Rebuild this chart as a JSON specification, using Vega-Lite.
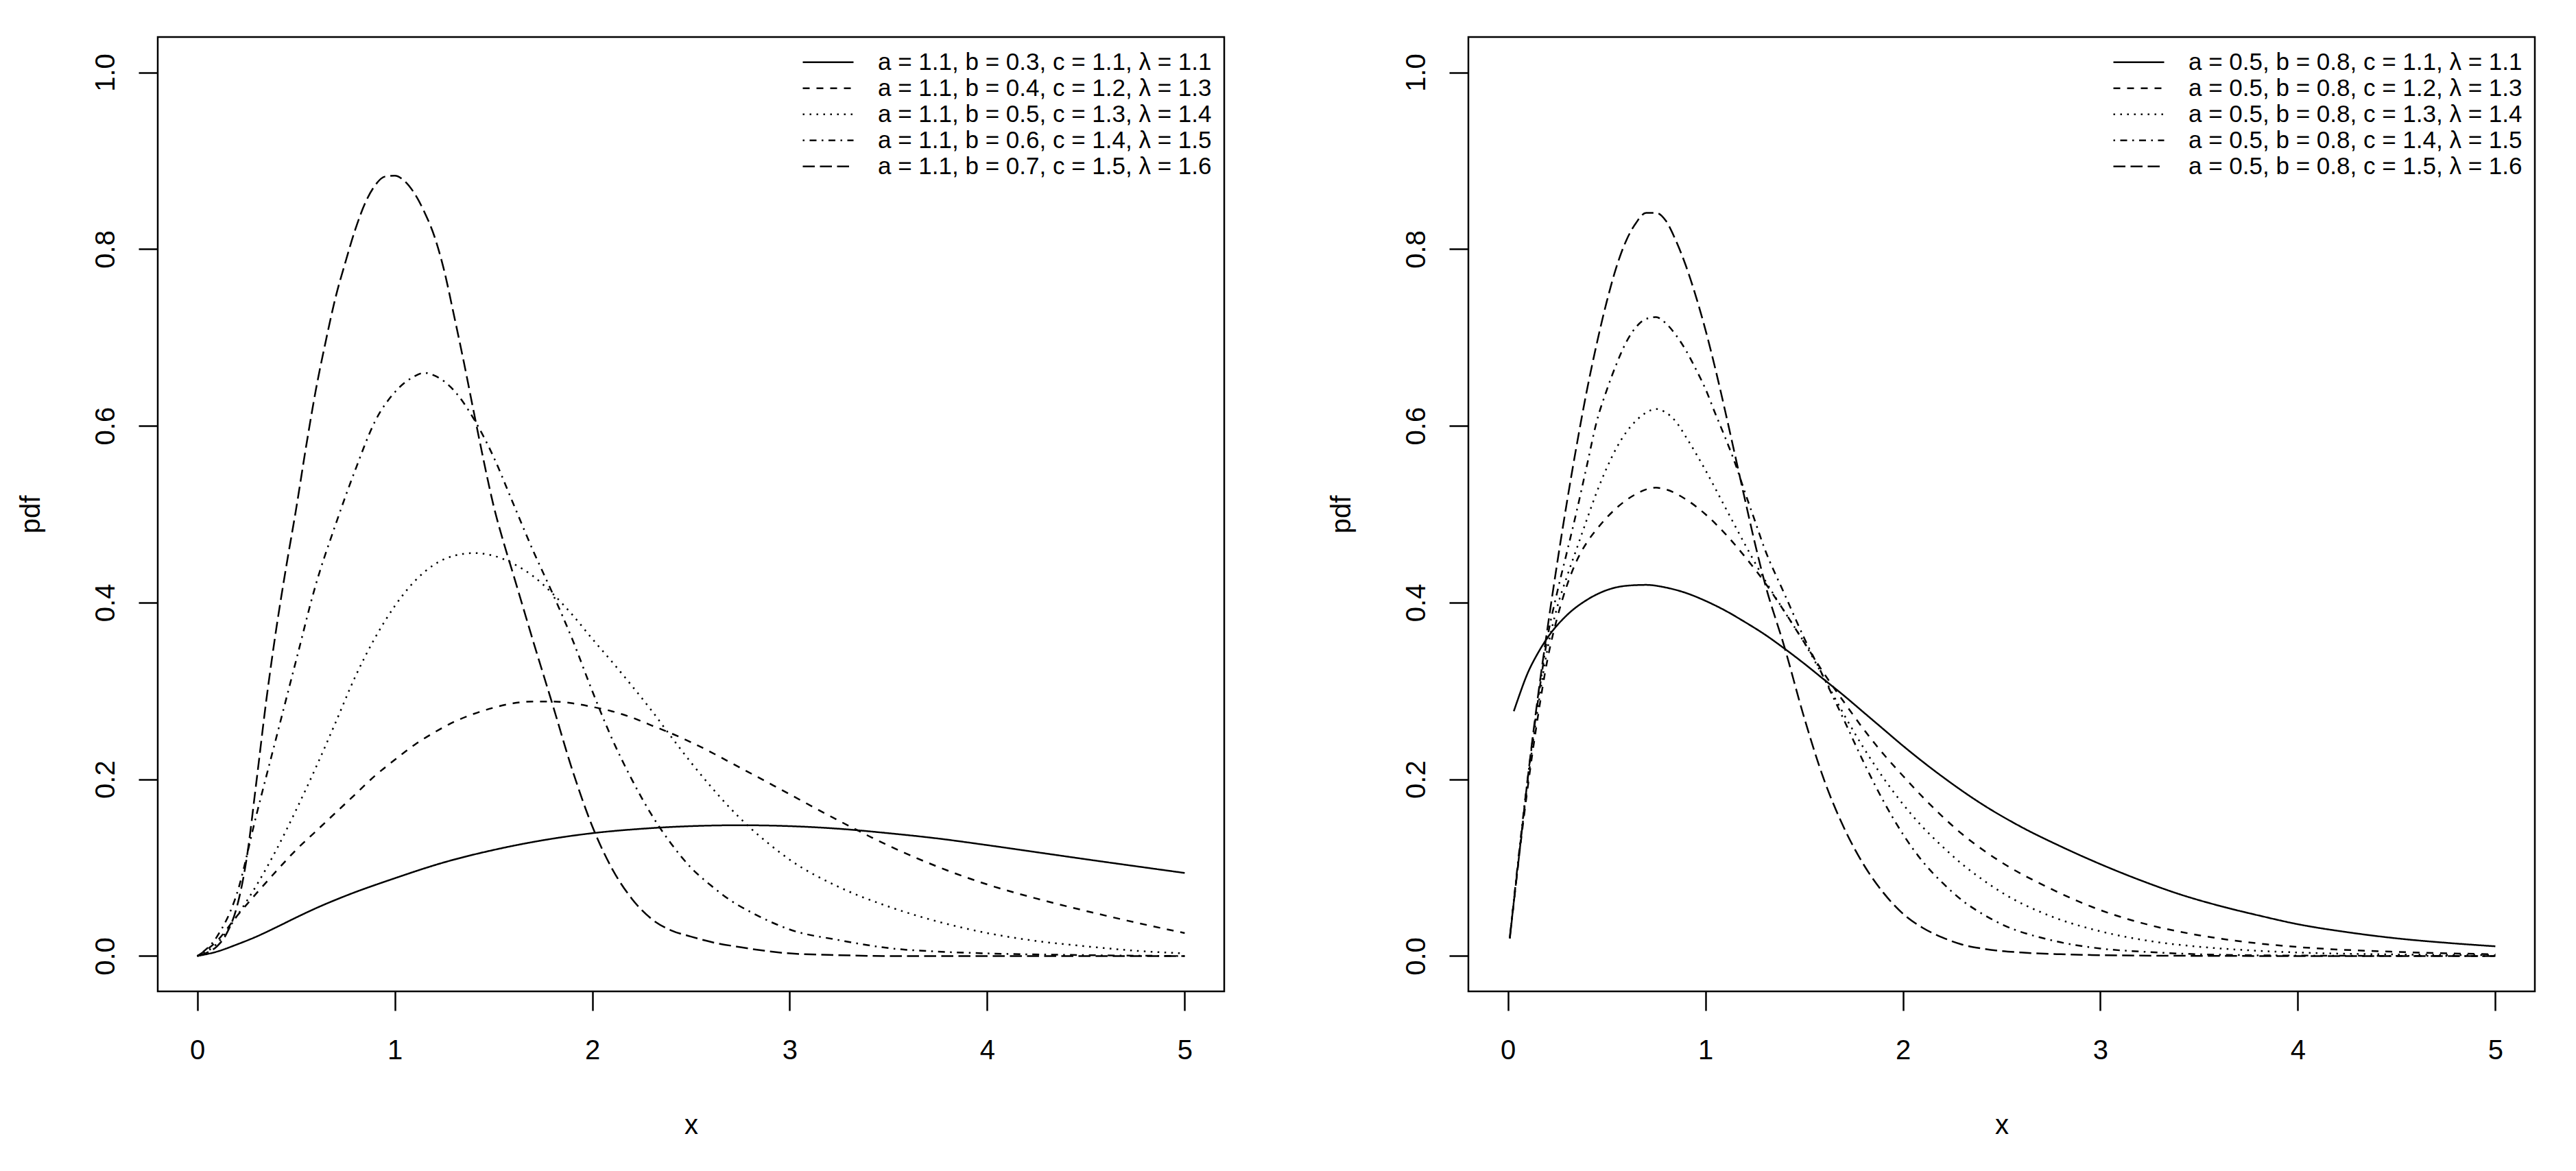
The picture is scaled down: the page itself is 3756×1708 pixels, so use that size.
{
  "$schema": "https://vega.github.io/schema/vega-lite/v6.json",
  "background": "white",
  "padding": {"left": 23, "top": 52, "right": 10, "bottom": 10},
  "spacing": 356,
  "bounds": "flush",
  "datasets": {
    "labelsLeft": [
      {"k": 1, "s": "a = 1.1, b = 0.3, c = 1.1, λ = 1.1"},
      {"k": 2, "s": "a = 1.1, b = 0.4, c = 1.2, λ = 1.3"},
      {"k": 3, "s": "a = 1.1, b = 0.5, c = 1.3, λ = 1.4"},
      {"k": 4, "s": "a = 1.1, b = 0.6, c = 1.4, λ = 1.5"},
      {"k": 5, "s": "a = 1.1, b = 0.7, c = 1.5, λ = 1.6"}
    ],
    "labelsRight": [
      {"k": 1, "s": "a = 0.5, b = 0.8, c = 1.1, λ = 1.1"},
      {"k": 2, "s": "a = 0.5, b = 0.8, c = 1.2, λ = 1.3"},
      {"k": 3, "s": "a = 0.5, b = 0.8, c = 1.3, λ = 1.4"},
      {"k": 4, "s": "a = 0.5, b = 0.8, c = 1.4, λ = 1.5"},
      {"k": 5, "s": "a = 0.5, b = 0.8, c = 1.5, λ = 1.6"}
    ],
    "left": [
      {"k":1,"x":0,"y":0},{"k":1,"x":0.1,"y":0.005},{"k":1,"x":0.2,"y":0.013},{"k":1,"x":0.3,"y":0.022},{"k":1,"x":0.4,"y":0.0325},{"k":1,"x":0.5,"y":0.0435},{"k":1,"x":0.6,"y":0.054},{"k":1,"x":0.75,"y":0.068},{"k":1,"x":1.0,"y":0.088},{"k":1,"x":1.25,"y":0.106},{"k":1,"x":1.5,"y":0.12},{"k":1,"x":1.75,"y":0.131},{"k":1,"x":2.0,"y":0.139},{"k":1,"x":2.25,"y":0.144},{"k":1,"x":2.5,"y":0.147},{"k":1,"x":2.75,"y":0.148},{"k":1,"x":3.0,"y":0.147},{"k":1,"x":3.25,"y":0.144},{"k":1,"x":3.5,"y":0.139},{"k":1,"x":3.75,"y":0.133},{"k":1,"x":4.0,"y":0.1255},{"k":1,"x":4.25,"y":0.1175},{"k":1,"x":4.5,"y":0.1095},{"k":1,"x":4.75,"y":0.1017},{"k":1,"x":5.0,"y":0.094},

      {"k":2,"x":0,"y":0},{"k":2,"x":0.1,"y":0.017},{"k":2,"x":0.2,"y":0.045},{"k":2,"x":0.3,"y":0.071},{"k":2,"x":0.4,"y":0.096},{"k":2,"x":0.5,"y":0.12},{"k":2,"x":0.6,"y":0.141},{"k":2,"x":0.7,"y":0.162},{"k":2,"x":0.8,"y":0.183},{"k":2,"x":0.9,"y":0.204},{"k":2,"x":1.0,"y":0.222},{"k":2,"x":1.1,"y":0.239},{"k":2,"x":1.2,"y":0.253},{"k":2,"x":1.3,"y":0.265},{"k":2,"x":1.4,"y":0.274},{"k":2,"x":1.5,"y":0.281},{"k":2,"x":1.6,"y":0.286},{"k":2,"x":1.7,"y":0.288},{"k":2,"x":1.8,"y":0.288},{"k":2,"x":1.9,"y":0.286},{"k":2,"x":2.0,"y":0.282},{"k":2,"x":2.1,"y":0.277},{"k":2,"x":2.2,"y":0.27},{"k":2,"x":2.3,"y":0.261},{"k":2,"x":2.4,"y":0.252},{"k":2,"x":2.5,"y":0.242},{"k":2,"x":2.75,"y":0.213},{"k":2,"x":3.0,"y":0.183},{"k":2,"x":3.25,"y":0.153},{"k":2,"x":3.5,"y":0.125},{"k":2,"x":3.75,"y":0.101},{"k":2,"x":4.0,"y":0.081},{"k":2,"x":4.25,"y":0.065},{"k":2,"x":4.5,"y":0.051},{"k":2,"x":4.75,"y":0.038},{"k":2,"x":5.0,"y":0.026},

      {"k":3,"x":0,"y":0},{"k":3,"x":0.1,"y":0.014},{"k":3,"x":0.2,"y":0.045},{"k":3,"x":0.3,"y":0.08},{"k":3,"x":0.4,"y":0.12},{"k":3,"x":0.5,"y":0.165},{"k":3,"x":0.6,"y":0.213},{"k":3,"x":0.7,"y":0.264},{"k":3,"x":0.8,"y":0.316},{"k":3,"x":0.9,"y":0.36},{"k":3,"x":1.0,"y":0.396},{"k":3,"x":1.1,"y":0.424},{"k":3,"x":1.2,"y":0.443},{"k":3,"x":1.3,"y":0.453},{"k":3,"x":1.4,"y":0.456},{"k":3,"x":1.5,"y":0.453},{"k":3,"x":1.6,"y":0.444},{"k":3,"x":1.7,"y":0.43},{"k":3,"x":1.8,"y":0.41},{"k":3,"x":1.9,"y":0.386},{"k":3,"x":2.0,"y":0.359},{"k":3,"x":2.1,"y":0.333},{"k":3,"x":2.2,"y":0.306},{"k":3,"x":2.3,"y":0.278},{"k":3,"x":2.4,"y":0.248},{"k":3,"x":2.5,"y":0.219},{"k":3,"x":2.6,"y":0.192},{"k":3,"x":2.7,"y":0.167},{"k":3,"x":2.8,"y":0.145},{"k":3,"x":2.9,"y":0.126},{"k":3,"x":3.0,"y":0.109},{"k":3,"x":3.25,"y":0.078},{"k":3,"x":3.5,"y":0.056},{"k":3,"x":3.75,"y":0.039},{"k":3,"x":4.0,"y":0.026},{"k":3,"x":4.25,"y":0.017},{"k":3,"x":4.5,"y":0.011},{"k":3,"x":4.75,"y":0.006},{"k":3,"x":5.0,"y":0.003},

      {"k":4,"x":0,"y":0},{"k":4,"x":0.1,"y":0.022},{"k":4,"x":0.2,"y":0.07},{"k":4,"x":0.3,"y":0.16},{"k":4,"x":0.4,"y":0.247},{"k":4,"x":0.5,"y":0.334},{"k":4,"x":0.6,"y":0.42},{"k":4,"x":0.7,"y":0.488},{"k":4,"x":0.8,"y":0.55},{"k":4,"x":0.9,"y":0.605},{"k":4,"x":1.0,"y":0.638},{"k":4,"x":1.1,"y":0.656},{"k":4,"x":1.15,"y":0.66},{"k":4,"x":1.2,"y":0.657},{"k":4,"x":1.3,"y":0.64},{"k":4,"x":1.4,"y":0.608},{"k":4,"x":1.5,"y":0.565},{"k":4,"x":1.6,"y":0.512},{"k":4,"x":1.7,"y":0.459},{"k":4,"x":1.8,"y":0.41},{"k":4,"x":1.9,"y":0.358},{"k":4,"x":2.0,"y":0.3},{"k":4,"x":2.1,"y":0.246},{"k":4,"x":2.2,"y":0.2},{"k":4,"x":2.3,"y":0.16},{"k":4,"x":2.4,"y":0.127},{"k":4,"x":2.5,"y":0.1},{"k":4,"x":2.6,"y":0.08},{"k":4,"x":2.7,"y":0.063},{"k":4,"x":2.8,"y":0.05},{"k":4,"x":2.9,"y":0.039},{"k":4,"x":3.0,"y":0.03},{"k":4,"x":3.25,"y":0.018},{"k":4,"x":3.5,"y":0.009},{"k":4,"x":3.75,"y":0.005},{"k":4,"x":4.0,"y":0.003},{"k":4,"x":4.5,"y":0.001},{"k":4,"x":5.0,"y":0.0},

      {"k":5,"x":0,"y":0},{"k":5,"x":0.05,"y":0.004},{"k":5,"x":0.1,"y":0.011},{"k":5,"x":0.15,"y":0.026},{"k":5,"x":0.2,"y":0.055},{"k":5,"x":0.25,"y":0.11},{"k":5,"x":0.3,"y":0.198},{"k":5,"x":0.35,"y":0.29},{"k":5,"x":0.4,"y":0.37},{"k":5,"x":0.45,"y":0.44},{"k":5,"x":0.5,"y":0.505},{"k":5,"x":0.55,"y":0.575},{"k":5,"x":0.6,"y":0.64},{"k":5,"x":0.65,"y":0.695},{"k":5,"x":0.7,"y":0.745},{"k":5,"x":0.75,"y":0.785},{"k":5,"x":0.8,"y":0.822},{"k":5,"x":0.85,"y":0.852},{"k":5,"x":0.9,"y":0.872},{"k":5,"x":0.95,"y":0.882},{"k":5,"x":1.0,"y":0.883},{"k":5,"x":1.05,"y":0.877},{"k":5,"x":1.1,"y":0.863},{"k":5,"x":1.15,"y":0.842},{"k":5,"x":1.2,"y":0.815},{"k":5,"x":1.25,"y":0.776},{"k":5,"x":1.3,"y":0.725},{"k":5,"x":1.35,"y":0.672},{"k":5,"x":1.4,"y":0.616},{"k":5,"x":1.45,"y":0.561},{"k":5,"x":1.5,"y":0.51},{"k":5,"x":1.55,"y":0.469},{"k":5,"x":1.6,"y":0.432},{"k":5,"x":1.7,"y":0.357},{"k":5,"x":1.8,"y":0.284},{"k":5,"x":1.9,"y":0.21},{"k":5,"x":2.0,"y":0.147},{"k":5,"x":2.1,"y":0.099},{"k":5,"x":2.2,"y":0.065},{"k":5,"x":2.3,"y":0.042},{"k":5,"x":2.4,"y":0.029},{"k":5,"x":2.5,"y":0.022},{"k":5,"x":2.6,"y":0.016},{"k":5,"x":2.75,"y":0.01},{"k":5,"x":3.0,"y":0.003},{"k":5,"x":3.25,"y":0.001},{"k":5,"x":3.5,"y":0.0},{"k":5,"x":4.0,"y":0.0},{"k":5,"x":5.0,"y":0.0}
    ],
    "right": [
      {"k":1,"x":0.03,"y":0.277},{"k":1,"x":0.05,"y":0.29},{"k":1,"x":0.1,"y":0.32},{"k":1,"x":0.15,"y":0.342},{"k":1,"x":0.2,"y":0.36},{"k":1,"x":0.3,"y":0.386},{"k":1,"x":0.4,"y":0.403},{"k":1,"x":0.5,"y":0.414},{"k":1,"x":0.6,"y":0.419},{"k":1,"x":0.7,"y":0.42},{"k":1,"x":0.8,"y":0.417},{"k":1,"x":0.9,"y":0.411},{"k":1,"x":1.0,"y":0.402},{"k":1,"x":1.1,"y":0.391},{"k":1,"x":1.2,"y":0.378},{"k":1,"x":1.3,"y":0.364},{"k":1,"x":1.4,"y":0.348},{"k":1,"x":1.5,"y":0.331},{"k":1,"x":1.6,"y":0.313},{"k":1,"x":1.7,"y":0.295},{"k":1,"x":1.8,"y":0.276},{"k":1,"x":1.9,"y":0.257},{"k":1,"x":2.0,"y":0.238},{"k":1,"x":2.2,"y":0.203},{"k":1,"x":2.4,"y":0.172},{"k":1,"x":2.6,"y":0.146},{"k":1,"x":2.8,"y":0.124},{"k":1,"x":3.0,"y":0.104},{"k":1,"x":3.2,"y":0.086},{"k":1,"x":3.4,"y":0.07},{"k":1,"x":3.6,"y":0.057},{"k":1,"x":3.8,"y":0.046},{"k":1,"x":4.0,"y":0.036},{"k":1,"x":4.25,"y":0.027},{"k":1,"x":4.5,"y":0.02},{"k":1,"x":4.75,"y":0.015},{"k":1,"x":5.0,"y":0.011},

      {"k":2,"x":0.01,"y":0.02},{"k":2,"x":0.05,"y":0.1},{"k":2,"x":0.1,"y":0.19},{"k":2,"x":0.15,"y":0.268},{"k":2,"x":0.2,"y":0.335},{"k":2,"x":0.25,"y":0.383},{"k":2,"x":0.3,"y":0.42},{"k":2,"x":0.35,"y":0.448},{"k":2,"x":0.4,"y":0.468},{"k":2,"x":0.45,"y":0.483},{"k":2,"x":0.5,"y":0.496},{"k":2,"x":0.55,"y":0.507},{"k":2,"x":0.6,"y":0.516},{"k":2,"x":0.65,"y":0.523},{"k":2,"x":0.7,"y":0.528},{"k":2,"x":0.75,"y":0.53},{"k":2,"x":0.8,"y":0.528},{"k":2,"x":0.9,"y":0.517},{"k":2,"x":1.0,"y":0.5},{"k":2,"x":1.1,"y":0.478},{"k":2,"x":1.2,"y":0.452},{"k":2,"x":1.3,"y":0.423},{"k":2,"x":1.4,"y":0.39},{"k":2,"x":1.5,"y":0.355},{"k":2,"x":1.6,"y":0.32},{"k":2,"x":1.7,"y":0.288},{"k":2,"x":1.8,"y":0.257},{"k":2,"x":1.9,"y":0.229},{"k":2,"x":2.0,"y":0.204},{"k":2,"x":2.1,"y":0.18},{"k":2,"x":2.2,"y":0.158},{"k":2,"x":2.3,"y":0.138},{"k":2,"x":2.4,"y":0.121},{"k":2,"x":2.5,"y":0.106},{"k":2,"x":2.75,"y":0.076},{"k":2,"x":3.0,"y":0.052},{"k":2,"x":3.25,"y":0.035},{"k":2,"x":3.5,"y":0.0235},{"k":2,"x":3.75,"y":0.0155},{"k":2,"x":4.0,"y":0.0102},{"k":2,"x":4.5,"y":0.0047},{"k":2,"x":5.0,"y":0.002},

      {"k":3,"x":0.01,"y":0.02},{"k":3,"x":0.05,"y":0.102},{"k":3,"x":0.1,"y":0.195},{"k":3,"x":0.15,"y":0.278},{"k":3,"x":0.2,"y":0.347},{"k":3,"x":0.25,"y":0.395},{"k":3,"x":0.3,"y":0.43},{"k":3,"x":0.35,"y":0.462},{"k":3,"x":0.4,"y":0.494},{"k":3,"x":0.45,"y":0.525},{"k":3,"x":0.5,"y":0.552},{"k":3,"x":0.55,"y":0.575},{"k":3,"x":0.6,"y":0.593},{"k":3,"x":0.65,"y":0.606},{"k":3,"x":0.7,"y":0.615},{"k":3,"x":0.75,"y":0.619},{"k":3,"x":0.8,"y":0.615},{"k":3,"x":0.85,"y":0.605},{"k":3,"x":0.9,"y":0.588},{"k":3,"x":1.0,"y":0.55},{"k":3,"x":1.1,"y":0.508},{"k":3,"x":1.2,"y":0.466},{"k":3,"x":1.3,"y":0.426},{"k":3,"x":1.4,"y":0.39},{"k":3,"x":1.5,"y":0.355},{"k":3,"x":1.6,"y":0.315},{"k":3,"x":1.7,"y":0.274},{"k":3,"x":1.8,"y":0.236},{"k":3,"x":1.9,"y":0.202},{"k":3,"x":2.0,"y":0.172},{"k":3,"x":2.1,"y":0.146},{"k":3,"x":2.2,"y":0.124},{"k":3,"x":2.3,"y":0.104},{"k":3,"x":2.4,"y":0.087},{"k":3,"x":2.5,"y":0.072},{"k":3,"x":2.75,"y":0.045},{"k":3,"x":3.0,"y":0.028},{"k":3,"x":3.25,"y":0.017},{"k":3,"x":3.5,"y":0.0105},{"k":3,"x":3.75,"y":0.0065},{"k":3,"x":4.0,"y":0.004},{"k":3,"x":4.5,"y":0.0018},{"k":3,"x":5.0,"y":0.001},

      {"k":4,"x":0.01,"y":0.02},{"k":4,"x":0.05,"y":0.104},{"k":4,"x":0.1,"y":0.2},{"k":4,"x":0.15,"y":0.285},{"k":4,"x":0.2,"y":0.36},{"k":4,"x":0.25,"y":0.412},{"k":4,"x":0.3,"y":0.458},{"k":4,"x":0.35,"y":0.505},{"k":4,"x":0.4,"y":0.555},{"k":4,"x":0.45,"y":0.605},{"k":4,"x":0.5,"y":0.64},{"k":4,"x":0.55,"y":0.67},{"k":4,"x":0.6,"y":0.695},{"k":4,"x":0.65,"y":0.712},{"k":4,"x":0.7,"y":0.721},{"k":4,"x":0.75,"y":0.723},{"k":4,"x":0.8,"y":0.716},{"k":4,"x":0.85,"y":0.703},{"k":4,"x":0.9,"y":0.686},{"k":4,"x":0.95,"y":0.665},{"k":4,"x":1.0,"y":0.642},{"k":4,"x":1.05,"y":0.614},{"k":4,"x":1.1,"y":0.587},{"k":4,"x":1.15,"y":0.558},{"k":4,"x":1.2,"y":0.525},{"k":4,"x":1.25,"y":0.493},{"k":4,"x":1.3,"y":0.461},{"k":4,"x":1.4,"y":0.41},{"k":4,"x":1.5,"y":0.36},{"k":4,"x":1.6,"y":0.315},{"k":4,"x":1.7,"y":0.268},{"k":4,"x":1.8,"y":0.22},{"k":4,"x":1.9,"y":0.176},{"k":4,"x":2.0,"y":0.138},{"k":4,"x":2.1,"y":0.107},{"k":4,"x":2.2,"y":0.083},{"k":4,"x":2.3,"y":0.063},{"k":4,"x":2.4,"y":0.048},{"k":4,"x":2.5,"y":0.036},{"k":4,"x":2.75,"y":0.018},{"k":4,"x":3.0,"y":0.0085},{"k":4,"x":3.25,"y":0.0045},{"k":4,"x":3.5,"y":0.002},{"k":4,"x":4.0,"y":0.0005},{"k":4,"x":5.0,"y":0.0},

      {"k":5,"x":0.01,"y":0.022},{"k":5,"x":0.05,"y":0.1},{"k":5,"x":0.1,"y":0.2},{"k":5,"x":0.15,"y":0.29},{"k":5,"x":0.2,"y":0.37},{"k":5,"x":0.25,"y":0.445},{"k":5,"x":0.3,"y":0.515},{"k":5,"x":0.35,"y":0.58},{"k":5,"x":0.4,"y":0.64},{"k":5,"x":0.45,"y":0.693},{"k":5,"x":0.5,"y":0.74},{"k":5,"x":0.55,"y":0.78},{"k":5,"x":0.6,"y":0.81},{"k":5,"x":0.65,"y":0.83},{"k":5,"x":0.7,"y":0.841},{"k":5,"x":0.75,"y":0.841},{"k":5,"x":0.8,"y":0.832},{"k":5,"x":0.85,"y":0.81},{"k":5,"x":0.9,"y":0.782},{"k":5,"x":0.95,"y":0.748},{"k":5,"x":1.0,"y":0.709},{"k":5,"x":1.05,"y":0.665},{"k":5,"x":1.1,"y":0.617},{"k":5,"x":1.15,"y":0.567},{"k":5,"x":1.2,"y":0.517},{"k":5,"x":1.25,"y":0.468},{"k":5,"x":1.3,"y":0.423},{"k":5,"x":1.4,"y":0.35},{"k":5,"x":1.5,"y":0.27},{"k":5,"x":1.6,"y":0.2},{"k":5,"x":1.7,"y":0.146},{"k":5,"x":1.8,"y":0.104},{"k":5,"x":1.9,"y":0.072},{"k":5,"x":2.0,"y":0.048},{"k":5,"x":2.1,"y":0.032},{"k":5,"x":2.2,"y":0.021},{"k":5,"x":2.3,"y":0.013},{"k":5,"x":2.4,"y":0.0085},{"k":5,"x":2.6,"y":0.004},{"k":5,"x":2.8,"y":0.002},{"k":5,"x":3.0,"y":0.001},{"k":5,"x":3.5,"y":0.0002},{"k":5,"x":4.0,"y":0.0},{"k":5,"x":5.0,"y":0.0}
    ]
  },
  "config": {
    "font": "Liberation Sans",
    "view": {"stroke": "black", "strokeWidth": 2.5, "fill": "white"},
    "axis": {
      "grid": false, "domain": false,
      "tickColor": "black", "tickWidth": 2.5, "tickSize": 28,
      "labelColor": "black", "labelFontSize": 40, "labelFont": "Liberation Sans",
      "titleFont": "Liberation Sans", "titleFontSize": 40, "titleFontWeight": "normal", "titleColor": "black",
      "labelFlush": false, "labelOverlap": false, "labelBound": false
    },
    "axisX": {"labelPadding": 38, "titlePadding": 69},
    "axisY": {"labelAngle": -90, "labelAlign": "center", "labelBaseline": "alphabetic", "labelPadding": 36, "titlePadding": 69},
    "legend": {
      "orient": "top-right", "offset": 18, "padding": 0,
      "labelFontSize": 35, "labelFont": "Liberation Sans", "labelColor": "black",
      "symbolType": "stroke", "symbolSize": 5476, "symbolStrokeWidth": 2.5, "symbolStrokeColor": "black",
      "clipHeight": 37.7, "rowPadding": 0, "labelOffset": 34, "labelLimit": 0
    }
  },
  "resolve": {"scale": {"strokeDash": "independent"}, "legend": {"strokeDash": "independent"}},
  "hconcat": [
    {
      "width": 1555, "height": 1392,
      "data": {"name": "left"},
      "transform": [{"lookup": "k", "from": {"data": {"name": "labelsLeft"}, "key": "k", "fields": ["s"]}}],
      "mark": {"type": "line", "interpolate": "monotone", "strokeWidth": 2.5, "color": "black"},
      "encoding": {
        "x": {"field": "x", "type": "quantitative", "scale": {"domain": [-0.2, 5.2], "nice": false, "zero": false}, "axis": {"values": [0, 1, 2, 3, 4, 5], "title": "x"}},
        "y": {"field": "y", "type": "quantitative", "scale": {"domain": [-0.04, 1.04], "nice": false, "zero": false}, "axis": {"values": [0, 0.2, 0.4, 0.6, 0.8, 1.0], "format": ".1f", "title": "pdf"}},
        "strokeDash": {
          "field": "s", "type": "nominal",
          "scale": {
            "domain": ["a = 1.1, b = 0.3, c = 1.1, λ = 1.1", "a = 1.1, b = 0.4, c = 1.2, λ = 1.3", "a = 1.1, b = 0.5, c = 1.3, λ = 1.4", "a = 1.1, b = 0.6, c = 1.4, λ = 1.5", "a = 1.1, b = 0.7, c = 1.5, λ = 1.6"],
            "range": [[1, 0], [10, 10], [2.5, 7.5], [2.5, 7.5, 10, 7.5], [17.5, 7.5]]
          },
          "legend": {"title": null}
        }
      }
    },
    {
      "width": 1555, "height": 1392,
      "data": {"name": "right"},
      "transform": [{"lookup": "k", "from": {"data": {"name": "labelsRight"}, "key": "k", "fields": ["s"]}}],
      "mark": {"type": "line", "interpolate": "monotone", "strokeWidth": 2.5, "color": "black"},
      "encoding": {
        "x": {"field": "x", "type": "quantitative", "scale": {"domain": [-0.2, 5.2], "nice": false, "zero": false}, "axis": {"values": [0, 1, 2, 3, 4, 5], "title": "x"}},
        "y": {"field": "y", "type": "quantitative", "scale": {"domain": [-0.04, 1.04], "nice": false, "zero": false}, "axis": {"values": [0, 0.2, 0.4, 0.6, 0.8, 1.0], "format": ".1f", "title": "pdf"}},
        "strokeDash": {
          "field": "s", "type": "nominal",
          "scale": {
            "domain": ["a = 0.5, b = 0.8, c = 1.1, λ = 1.1", "a = 0.5, b = 0.8, c = 1.2, λ = 1.3", "a = 0.5, b = 0.8, c = 1.3, λ = 1.4", "a = 0.5, b = 0.8, c = 1.4, λ = 1.5", "a = 0.5, b = 0.8, c = 1.5, λ = 1.6"],
            "range": [[1, 0], [10, 10], [2.5, 7.5], [2.5, 7.5, 10, 7.5], [17.5, 7.5]]
          },
          "legend": {"title": null}
        }
      }
    }
  ]
}
